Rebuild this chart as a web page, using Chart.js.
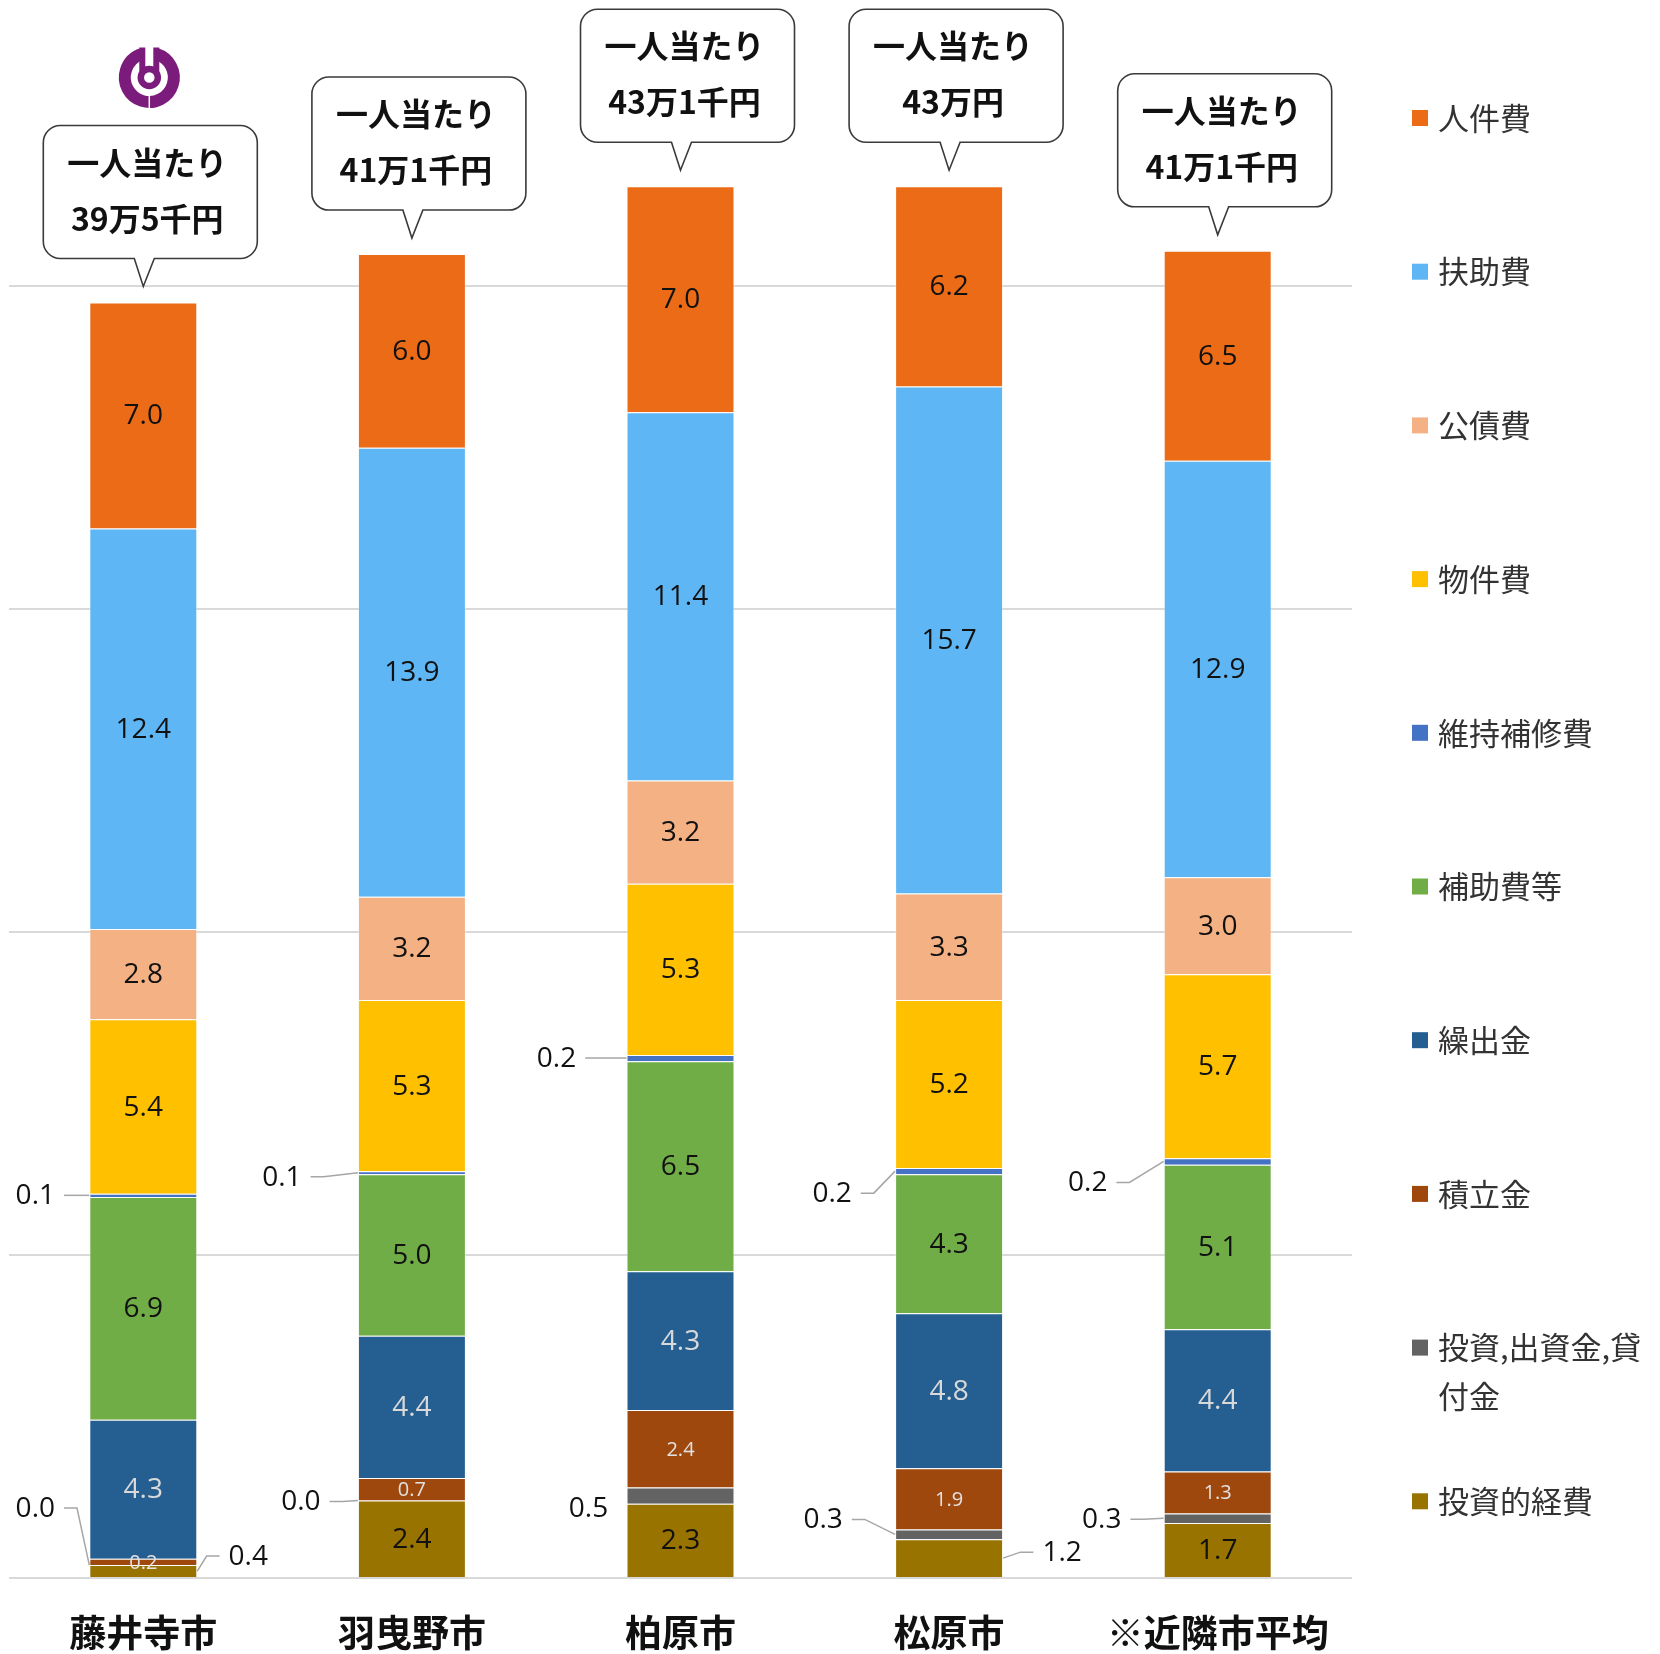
<!DOCTYPE html>
<html lang="ja">
<head>
<meta charset="utf-8">
<title>一人当たり性質別歳出</title>
<script src="https://cdn.jsdelivr.net/npm/chart.js@4.4.1/dist/chart.umd.min.js"></script>
<style>
  html, body { margin: 0; padding: 0; background: #fff; }
  #wrap { width: 1660px; height: 1654px; }
</style>
</head>
<body>
<div id="wrap"><canvas id="chart" width="1660" height="1654"></canvas></div>
<script>
// 単位: 万円 (一人当たり)
const cities = ['藤井寺市', '羽曳野市', '柏原市', '松原市', '※近隣市平均'];
const perCapita = ['39万5千円', '41万1千円', '43万1千円', '43万円', '41万1千円'];

const jinkenhi     = [7.0, 6.0, 7.0, 6.2, 6.5];      // 人件費
const fujohi       = [12.4, 13.9, 11.4, 15.7, 12.9]; // 扶助費
const kosaihi      = [2.8, 3.2, 3.2, 3.3, 3.0];      // 公債費
const bukkenhi     = [5.4, 5.3, 5.3, 5.2, 5.7];      // 物件費
const ijihoshuhi   = [0.1, 0.1, 0.2, 0.2, 0.2];      // 維持補修費
const hojohi       = [6.9, 5.0, 6.5, 4.3, 5.1];      // 補助費等
const kuridashikin = [4.3, 4.4, 4.3, 4.8, 4.4];      // 繰出金
const tsumitatekin = [0.2, 0.7, 2.4, 1.9, 1.3];      // 積立金
const toshiShusshi = [0.0, 0.0, 0.5, 0.3, 0.3];      // 投資,出資金,貸付金
const toshitekiKeihi = [0.4, 2.4, 2.3, 1.2, 1.7];    // 投資的経費

// labels that sit outside the bar, with a leader line (offsets from the bar edge)
const outsideLabels = [
  { series: '維持補修費', city: 0, side: 'left', dx: -54, dy: 0, line: true },
  { series: '投資,出資金,貸付金', city: 0, side: 'left', dx: -54, dy: -57, line: true },
  { series: '投資的経費', city: 0, side: 'right', dx: 51, dy: -15, line: true },
  { series: '維持補修費', city: 1, side: 'left', dx: -76, dy: 4, line: true },
  { series: '投資,出資金,貸付金', city: 1, side: 'left', dx: -57, dy: 1, line: true },
  { series: '維持補修費', city: 2, side: 'left', dx: -70, dy: 0, line: true },
  { series: '投資,出資金,貸付金', city: 2, side: 'left', dx: -38, dy: 12, line: false },
  { series: '維持補修費', city: 3, side: 'left', dx: -63, dy: 22, line: true },
  { series: '投資,出資金,貸付金', city: 3, side: 'left', dx: -72, dy: -15, line: true },
  { series: '投資的経費', city: 3, side: 'right', dx: 59, dy: -6, line: true },
  { series: '維持補修費', city: 4, side: 'left', dx: -76, dy: 21, line: true },
  { series: '投資,出資金,貸付金', city: 4, side: 'left', dx: -62, dy: 1, line: true }
];

const NUM_FONT = '"Open Sans", "Noto Sans CJK JP", sans-serif';
const JP_FONT = '"Noto Sans CJK JP", sans-serif';

const valueLabels = {
  id: 'valueLabels',
  afterDatasetsDraw(chart) {
    const ctx = chart.ctx;
    ctx.save();
    ctx.textAlign = 'center';
    ctx.textBaseline = 'middle';
    chart.data.datasets.forEach((ds, di) => {
      const meta = chart.getDatasetMeta(di);
      meta.data.forEach((bar, i) => {
        const text = ds.data[i].toFixed(1);
        const midY = (bar.y + bar.base) / 2;
        const half = bar.width / 2;
        const out = outsideLabels.find(o => o.series === ds.label && o.city === i);
        if (out) {
          ctx.font = '28px ' + NUM_FONT;
          const edgeX = out.side === 'left' ? bar.x - half : bar.x + half;
          const lx = edgeX + out.dx;
          const ly = midY + out.dy;
          if (out.line) {
            const tw = ctx.measureText(text).width;
            const dir = out.side === 'left' ? 1 : -1;
            const startX = lx + dir * (tw / 2 + 9);
            ctx.strokeStyle = '#a6a6a6';
            ctx.lineWidth = 1.5;
            ctx.beginPath();
            ctx.moveTo(startX, ly);
            ctx.lineTo(startX + dir * 13, ly);
            ctx.lineTo(edgeX, midY);
            ctx.stroke();
          }
          ctx.fillStyle = '#111';
          ctx.fillText(text, lx, ly + 1);
        } else {
          ctx.font = (ds.valueSize || 28) + 'px ' + NUM_FONT;
          ctx.fillStyle = ds.valueColor || '#111';
          ctx.fillText(text, bar.x, midY + 1);
        }
      });
    });
    ctx.restore();
  }
};

function balloonPath(ctx, l, t, r, b, rad, cx, tipY) {
  ctx.beginPath();
  ctx.moveTo(l + rad, t);
  ctx.lineTo(r - rad, t);
  ctx.arcTo(r, t, r, t + rad, rad);
  ctx.lineTo(r, b - rad);
  ctx.arcTo(r, b, r - rad, b, rad);
  ctx.lineTo(cx + 11, b);
  ctx.lineTo(cx, tipY);
  ctx.lineTo(cx - 9, b);
  ctx.lineTo(l + rad, b);
  ctx.arcTo(l, b, l, b - rad, rad);
  ctx.lineTo(l, t + rad);
  ctx.arcTo(l, t, l + rad, t, rad);
  ctx.closePath();
}

function drawEmblem(ctx, cx, cy) {
  ctx.save();
  ctx.strokeStyle = '#7b1c7c';
  // outer ring, open at the top
  ctx.lineWidth = 12;
  ctx.beginPath();
  ctx.arc(cx, cy, 24.5, -Math.PI / 2 + 0.3, -Math.PI / 2 - 0.3 + Math.PI * 2);
  ctx.stroke();
  // prongs down to the small ring
  ctx.lineWidth = 6;
  ctx.beginPath();
  ctx.moveTo(cx - 7, cy - 30); ctx.lineTo(cx - 7, cy - 6);
  ctx.moveTo(cx + 7, cy - 30); ctx.lineTo(cx + 7, cy - 6);
  ctx.stroke();
  ctx.lineWidth = 6.5;
  ctx.beginPath();
  ctx.arc(cx, cy, 8.5, 0, Math.PI * 2);
  ctx.stroke();
  // small cut at the bottom
  ctx.strokeStyle = '#fff';
  ctx.lineWidth = 1.5;
  ctx.beginPath();
  ctx.moveTo(cx, cy + 17); ctx.lineTo(cx, cy + 32);
  ctx.stroke();
  ctx.restore();
}

const callouts = {
  id: 'callouts',
  afterDraw(chart) {
    const ctx = chart.ctx;
    const yScale = chart.scales.y;
    const topMeta = chart.getDatasetMeta(chart.data.datasets.length - 1);
    ctx.save();
    cities.forEach((c, i) => {
      const total = chart.data.datasets.reduce((s, ds) => s + ds.data[i], 0);
      const bx = topMeta.data[i].x;
      const tipY = yScale.getPixelForValue(total) - 16;
      const b = tipY - 28, t = b - 133;
      const l = bx + 7 - 107, r = bx + 7 + 107;
      balloonPath(ctx, l, t, r, b, 17, bx, tipY);
      ctx.fillStyle = '#fff';
      ctx.fill();
      ctx.strokeStyle = '#3a3a3a';
      ctx.lineWidth = 1.6;
      ctx.stroke();
      ctx.fillStyle = '#111';
      ctx.textAlign = 'center';
      ctx.textBaseline = 'middle';
      ctx.font = '700 32px ' + JP_FONT;
      ctx.fillText('一人当たり', (l + r) / 2 - 3, t + 37);
      ctx.fillText(perCapita[i], (l + r) / 2 - 3, t + 93);
      if (i === 0) drawEmblem(ctx, bx + 6, t - 48);
    });
    ctx.restore();
  }
};

// category names under the bars, placed with the x scale
const categoryLabels = {
  id: 'categoryLabels',
  afterDraw(chart) {
    const ctx = chart.ctx;
    const xScale = chart.scales.x;
    ctx.save();
    ctx.font = '700 37px ' + JP_FONT;
    ctx.fillStyle = '#111';
    ctx.textAlign = 'center';
    ctx.textBaseline = 'middle';
    cities.forEach((c, i) => ctx.fillText(c, xScale.getPixelForValue(i), chart.chartArea.bottom + 55));
    ctx.restore();
  }
};

const sideLegend = {
  id: 'sideLegend',
  afterDraw(chart) {
    const ctx = chart.ctx;
    const area = chart.chartArea;
    const items = chart.data.datasets.slice().reverse();
    const sqX = area.right + 60, textX = area.right + 86;
    const maxW = chart.width - textX - 2;
    ctx.save();
    ctx.font = '31px ' + JP_FONT;
    ctx.textAlign = 'left';
    ctx.textBaseline = 'middle';
    items.forEach((ds, k) => {
      const y = 118 + k * 153.7;
      ctx.fillStyle = ds.backgroundColor;
      ctx.fillRect(sqX, y - 8, 16, 16);
      // wrap long names
      const lines = [];
      let cur = '';
      for (const ch of ds.label) {
        if (ctx.measureText(cur + ch).width > maxW && cur) { lines.push(cur); cur = ch; }
        else cur += ch;
      }
      lines.push(cur);
      ctx.fillStyle = '#333';
      lines.forEach((ln, j) => ctx.fillText(ln, textX, y + j * 49));
    });
    ctx.restore();
  }
};

const mk = (label, data, color, extra) => Object.assign({
  label, data, backgroundColor: color,
  borderColor: 'rgba(255,255,255,0.35)', borderWidth: 1,
  barPercentage: 0.402, categoryPercentage: 1.0
}, extra || {});

new Chart(document.getElementById('chart').getContext('2d'), {
  type: 'bar',
  data: {
    labels: cities,
    datasets: [
      mk('投資的経費', toshitekiKeihi, '#997300'),
      mk('投資,出資金,貸付金', toshiShusshi, '#636363'),
      mk('積立金', tsumitatekin, '#9e480e', { valueColor: '#e2e2e2', valueSize: 20 }),
      mk('繰出金', kuridashikin, '#255e91', { valueColor: '#d9d9d9' }),
      mk('補助費等', hojohi, '#70ad47'),
      mk('維持補修費', ijihoshuhi, '#4472c4'),
      mk('物件費', bukkenhi, '#ffc000'),
      mk('公債費', kosaihi, '#f4b183'),
      mk('扶助費', fujohi, '#5eb6f5'),
      mk('人件費', jinkenhi, '#eb6b17')
    ]
  },
  options: {
    responsive: false,
    devicePixelRatio: 1,
    animation: false,
    layout: { padding: { top: 28, right: 308, bottom: 76, left: 9 } },
    plugins: {
      legend: { display: false },
      tooltip: { enabled: false }
    },
    scales: {
      x: {
        stacked: true,
        grid: { display: false, drawTicks: false },
        border: { display: false },
        ticks: { display: false }
      },
      y: {
        stacked: true,
        min: 0,
        max: 48,
        afterBuildTicks: axis => { axis.ticks = axis.ticks.filter(t => t.value % 10 === 0); },
        ticks: { display: false, stepSize: 10 },
        grid: { color: '#d9d9d9', lineWidth: 2, drawTicks: false },
        border: { display: false }
      }
    }
  },
  plugins: [valueLabels, callouts, categoryLabels, sideLegend]
});
</script>
</body>
</html>
